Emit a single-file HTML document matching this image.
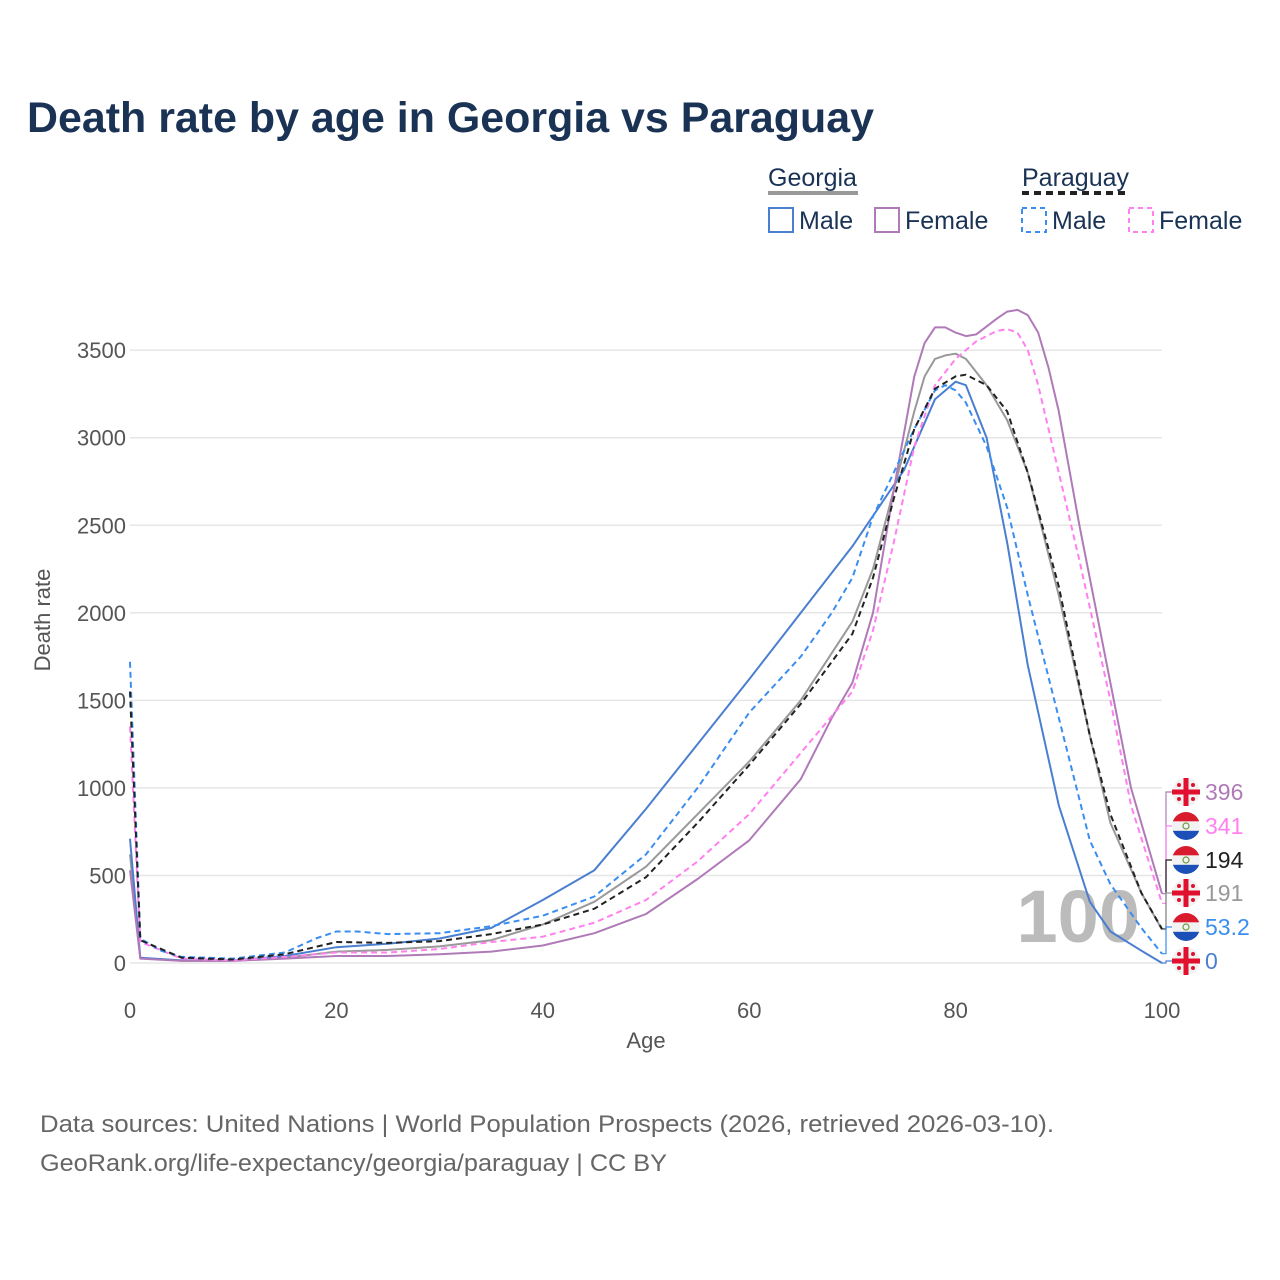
<!DOCTYPE html>
<html><head><meta charset="utf-8">
<style>
body{margin:0;background:#fff;}
svg{display:block;font-family:"Liberation Sans",sans-serif;}
</style></head>
<body>
<svg id="chart" width="1280" height="1280" viewBox="0 0 1280 1280" xmlns="http://www.w3.org/2000/svg">
<text x="27" y="132" font-size="43" font-weight="bold" fill="#1a3355" textLength="847" lengthAdjust="spacingAndGlyphs">Death rate by age in Georgia vs Paraguay</text>
<g font-size="25" fill="#1a3355">
<text x="768" y="186">Georgia</text>
<line x1="768" y1="193" x2="858" y2="193" stroke="#999" stroke-width="4"/>
<text x="1022" y="186">Paraguay</text>
<line x1="1022" y1="193" x2="1126" y2="193" stroke="#222" stroke-width="4" stroke-dasharray="7,5"/>
<g><rect x="769" y="208" width="24" height="24" fill="none" stroke="#4a7fcf" stroke-width="2"/><text x="799" y="229">Male</text></g>
<g><rect x="875" y="208" width="24" height="24" fill="none" stroke="#b07ab8" stroke-width="2"/><text x="905" y="229">Female</text></g>
<g><rect x="1022" y="208" width="24" height="24" fill="none" stroke="#3a8ef0" stroke-width="2" stroke-dasharray="5,4"/><text x="1052" y="229">Male</text></g>
<g><rect x="1129" y="208" width="24" height="24" fill="none" stroke="#ff80ee" stroke-width="2" stroke-dasharray="5,4"/><text x="1159" y="229">Female</text></g>
</g>
<g id="grid"></g>
<g id="yticks" font-size="22" fill="#555" text-anchor="end"></g>
<g id="xticks" font-size="22" fill="#555" text-anchor="middle"></g>
<text x="50" y="620" font-size="22" fill="#555" text-anchor="middle" transform="rotate(-90 50 620)">Death rate</text>
<text x="646" y="1048" font-size="22" fill="#555" text-anchor="middle">Age</text>
<text x="1140" y="942" font-size="74" font-weight="bold" fill="#bbb" text-anchor="end">100</text>
<g id="series"></g>
<g id="endlabels" font-size="23"></g>
<g font-size="24" fill="#666">
<text x="40" y="1132" textLength="1014" lengthAdjust="spacingAndGlyphs">Data sources: United Nations | World Population Prospects (2026, retrieved 2026-03-10).</text>
<text x="40" y="1171" textLength="627" lengthAdjust="spacingAndGlyphs">GeoRank.org/life-expectancy/georgia/paraguay | CC BY</text>
</g>
</svg>
<script>
const yTicks=[0,500,1000,1500,2000,2500,3000,3500];
const xTicks=[0,20,40,60,80,100];
const geoMaleAges=[0,1,5,10,15,20,25,30,35,40,45,50,55,60,65,70,75,78,80,81,83,85,87,90,93,95,98,100];
const geoMaleVals=[710,30,15,15,40,90,110,140,200,360,530,880,1250,1620,2000,2380,2815,3220,3320,3300,3000,2400,1700,900,350,180,70,0];
const geoFemaleAges=[0,1,5,10,15,20,25,30,35,40,45,50,55,60,65,68,70,72,74,76,77,78,79,80,81,82,84,85,86,87,88,89,90,92,95,97,100];
const geoFemaleVals=[530,25,12,12,25,40,40,50,65,100,170,280,480,700,1050,1400,1600,2000,2700,3350,3540,3630,3630,3600,3580,3590,3680,3720,3730,3700,3600,3400,3150,2500,1600,1000,396];
const geoTotalAges=[0,1,5,10,15,20,25,30,35,40,45,50,55,60,65,70,72,74,76,77,78,79,80,81,83,85,87,90,93,95,98,100];
const geoTotalVals=[620,28,13,13,30,65,75,95,130,220,350,550,850,1150,1500,1950,2250,2700,3150,3350,3450,3470,3480,3450,3300,3100,2800,2100,1300,800,400,191];
const parMaleAges=[0,1,3,5,10,15,18,20,22,25,30,35,40,45,50,55,60,65,68,70,72,74,76,78,79,80,81,83,85,87,90,93,95,98,100];
const parMaleVals=[1720,140,70,35,25,60,140,180,180,165,170,210,270,380,620,1000,1430,1750,2000,2200,2550,2800,3050,3270,3300,3270,3200,2950,2600,2100,1400,700,450,200,53.2];
const parFemaleAges=[0,1,5,10,15,20,25,30,35,40,45,50,55,60,65,70,72,74,76,78,80,82,84,85,86,87,88,90,92,95,97,100];
const parFemaleVals=[1350,120,25,15,35,60,60,80,120,150,230,360,580,850,1200,1550,1900,2400,2950,3300,3450,3550,3610,3620,3600,3500,3300,2800,2300,1500,900,341];
const parTotalAges=[0,1,5,10,15,20,25,30,35,40,45,50,55,60,65,70,72,74,76,78,80,81,83,85,87,90,93,95,98,100];
const parTotalVals=[1550,130,30,20,50,120,115,125,165,220,310,490,800,1130,1480,1880,2200,2650,3050,3280,3350,3360,3300,3150,2800,2150,1300,850,400,194];

const NS="http://www.w3.org/2000/svg";
const x=a=>130+a*10.32;
const y=v=>963-v*0.1751;
function mk(tag,attrs,parent){const e=document.createElementNS(NS,tag);for(const k in attrs)e.setAttribute(k,attrs[k]);parent.appendChild(e);return e;}
const grid=document.getElementById('grid'),yt=document.getElementById('yticks'),xt=document.getElementById('xticks');
yTicks.forEach(v=>{
  const l=mk('line',{x1:130,x2:1162,y1:y(v),y2:y(v),stroke:'#e6e6e6','stroke-width':1.5},grid);
  
  
  const t=mk('text',{x:126,y:y(v)+8},yt);t.textContent=v;
  
  
});
xTicks.forEach(a=>{
  const t=mk('text',{x:x(a),y:1018},xt);t.textContent=a;
  
  
});
const series=[
 ['georgia-total',geoTotalAges,geoTotalVals,'#999',null],
 ['georgia-male',geoMaleAges,geoMaleVals,'#4a7fcf',null],
 ['georgia-female',geoFemaleAges,geoFemaleVals,'#b07ab8',null],
 ['paraguay-female',parFemaleAges,parFemaleVals,'#ff80ee','6,4'],
 ['paraguay-male',parMaleAges,parMaleVals,'#3a8ef0','6,4'],
 ['paraguay-total',parTotalAges,parTotalVals,'#222','6,4'],
];
const sg=document.getElementById('series');
series.forEach(s=>{
  const d=s[1].map((a,i)=>(i?'L':'M')+x(a).toFixed(1)+','+y(s[2][i]).toFixed(1)).join(' ');
  const p=mk('path',{d:d,fill:'none',stroke:s[3],'stroke-width':2,'stroke-linejoin':'round'},sg);
  if(s[4])p.setAttribute('stroke-dasharray',s[4]);
  
  
});
const endLabels=[
 ['georgia-female',geoFemaleVals,'#b07ab8','geo',792],
 ['paraguay-female',parFemaleVals,'#ff80ee','par',826],
 ['paraguay-total',parTotalVals,'#222','par',860],
 ['georgia-total',geoTotalVals,'#999','geo',893],
 ['paraguay-male',parMaleVals,'#3a8ef0','par',927],
 ['georgia-male',geoMaleVals,'#4a7fcf','geo',961],
];
const eg=document.getElementById('endlabels');
endLabels.forEach(e=>{
  const v=e[1][e[1].length-1];
  const ly=e[4];
  const c=mk('polyline',{points:`1162,${y(v)} 1166,${y(v)} 1166,${ly} 1172,${ly}`,fill:'none',stroke:e[2],'stroke-width':1.2},eg);
  
  
  const g=mk('g',{},eg);
  
  
  const cx=1186,r=14;
  if(e[3]==='geo'){
    mk('circle',{cx:cx,cy:ly,r:r,fill:'#f2f2f2'},g);
    mk('rect',{x:cx-r,y:ly-2.5,width:2*r,height:5,fill:'#e0102e'},g);
    mk('rect',{x:cx-2.5,y:ly-r,width:5,height:2*r,fill:'#e0102e'},g);
    [[-7,-7],[7,-7],[-7,7],[7,7]].forEach(o=>mk('circle',{cx:cx+o[0],cy:ly+o[1],r:2,fill:'#e0102e'},g));
  }else{
    const id='cp'+ly;
    const cp=mk('clipPath',{id:id},g);mk('circle',{cx:cx,cy:ly,r:r},cp);
    const gg=mk('g',{'clip-path':`url(#${id})`},g);
    mk('rect',{x:cx-r,y:ly-r,width:2*r,height:9.4,fill:'#d91b2e'},gg);
    mk('rect',{x:cx-r,y:ly-r+9.4,width:2*r,height:9.4,fill:'#f2f2f2'},gg);
    mk('rect',{x:cx-r,y:ly-r+18.8,width:2*r,height:9.4,fill:'#1b50b8'},gg);
    mk('circle',{cx:cx,cy:ly,r:3,fill:'none',stroke:'#6a9a3a','stroke-width':1.2},gg);
  }
  const t=mk('text',{x:1205,y:ly+8,fill:e[2]},eg);t.textContent=v;
  
  
});
</script>
</body></html>
